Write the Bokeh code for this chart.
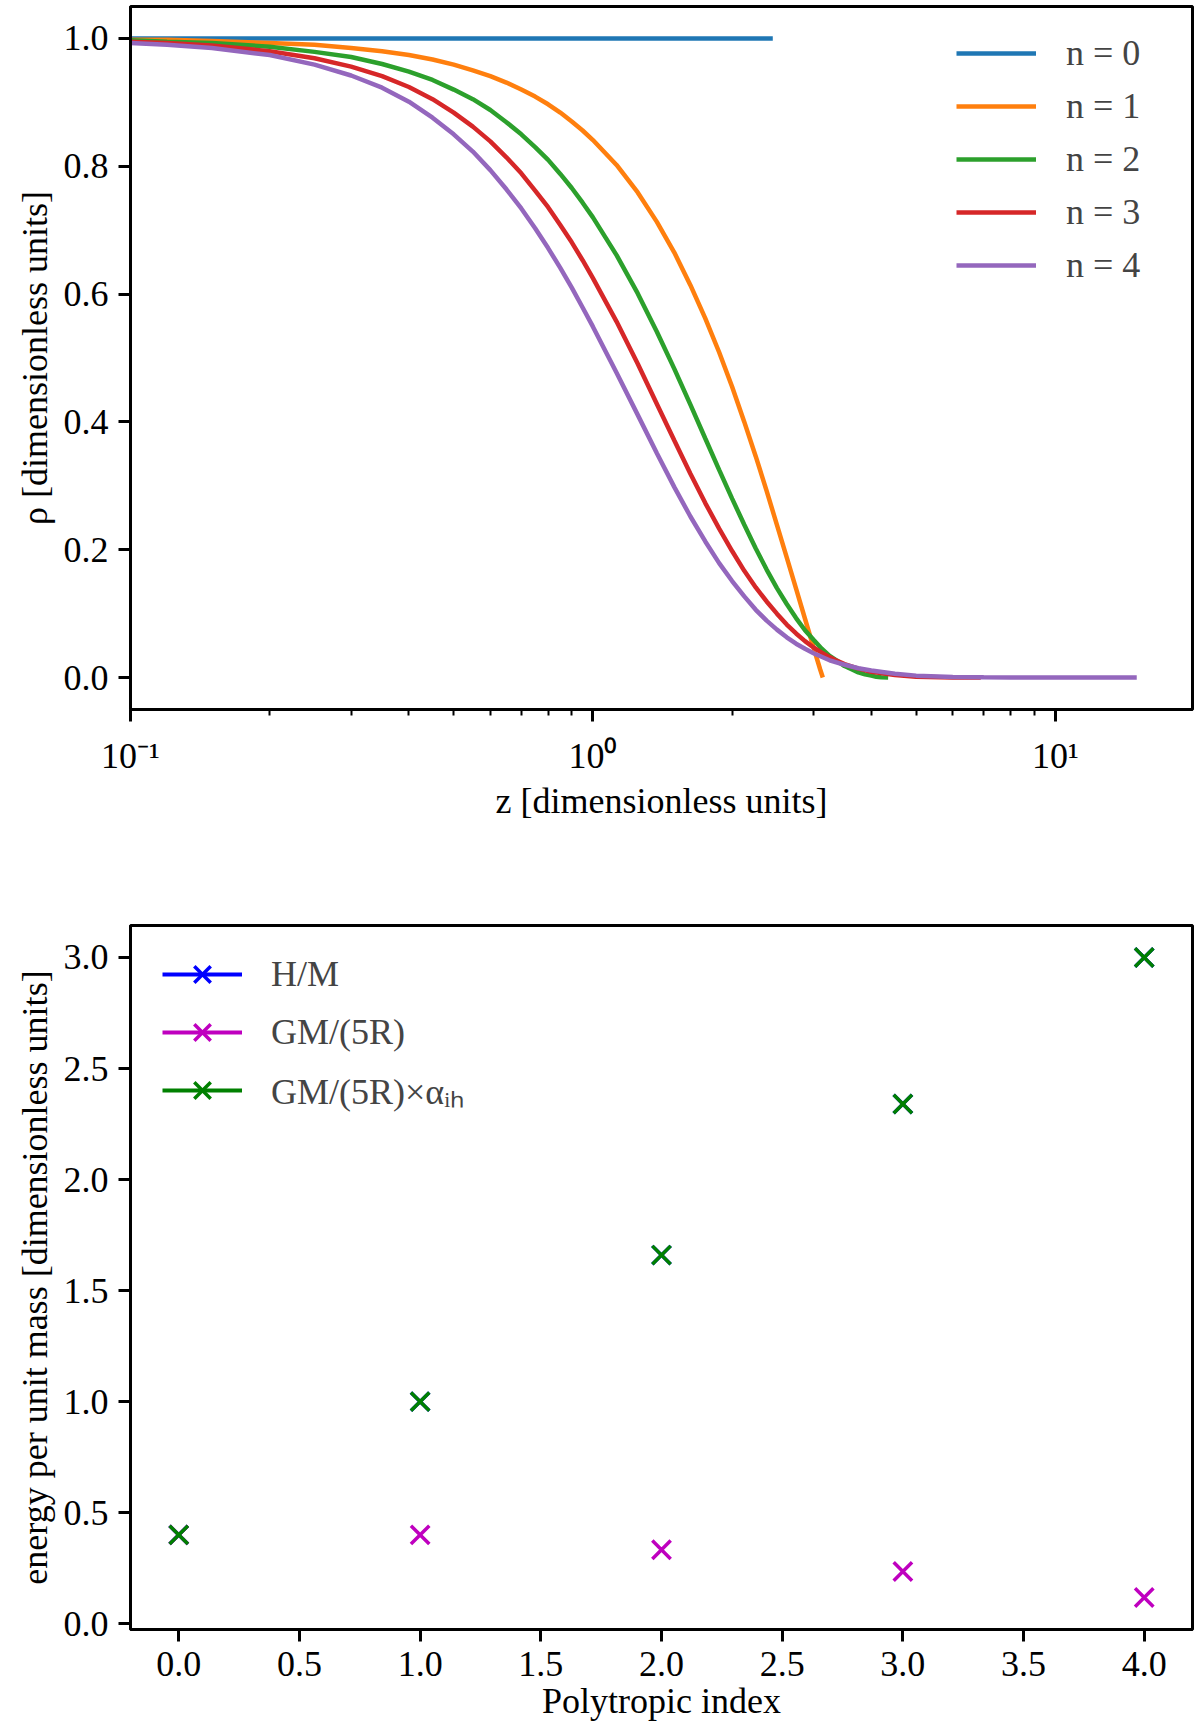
from bokeh.models import Range1d, FixedTicker, PrintfTickFormatter, Legend, LegendItem, ColumnDataSource
from bokeh.layouts import column
from bokeh.plotting import figure
from bokeh.embed import file_html
from bokeh.resources import INLINE

FONT = "Liberation Serif"

# density profiles (z on log axis)
z_n0 = [0.1, 2.449]
rho_n0 = [1.0, 1.0]

z_n1 = [0.1, 0.12, 0.15, 0.2, 0.25, 0.3, 0.35, 0.4, 0.45, 0.5, 0.55, 0.6, 0.65, 0.7, 0.75, 0.8, 0.85, 0.9, 0.95,
        1.0, 1.125, 1.25, 1.375, 1.5, 1.625, 1.75, 1.875, 2.0, 2.125, 2.25, 2.375, 2.5, 2.625, 2.75, 2.875, 3.0,
        3.1, 3.1416]
rho_n1 = [0.998, 0.998, 0.996, 0.993, 0.990, 0.985, 0.980, 0.974, 0.967, 0.959, 0.950, 0.941, 0.931, 0.920, 0.909,
          0.897, 0.884, 0.870, 0.856, 0.841, 0.802, 0.759, 0.713, 0.665, 0.614, 0.562, 0.509, 0.455, 0.400, 0.346,
          0.292, 0.239, 0.188, 0.139, 0.092, 0.047, 0.013, 0.0]

z_n2 = [0.1, 0.12, 0.15, 0.2, 0.25, 0.3, 0.35, 0.4, 0.45, 0.5, 0.55, 0.6, 0.65, 0.7, 0.75, 0.8, 0.85, 0.9, 0.95,
        1.0, 1.125, 1.25, 1.375, 1.5, 1.625, 1.75, 1.875, 2.0, 2.125, 2.25, 2.375, 2.5, 2.625, 2.75, 2.875, 3.0,
        3.125, 3.25, 3.375, 3.5, 3.625, 3.75, 3.875, 4.0, 4.1, 4.2, 4.35]
rho_n2 = [0.997, 0.995, 0.993, 0.987, 0.979, 0.971, 0.960, 0.948, 0.935, 0.920, 0.905, 0.888, 0.869, 0.850, 0.830,
          0.810, 0.788, 0.766, 0.743, 0.720, 0.661, 0.601, 0.541, 0.483, 0.427, 0.374, 0.325, 0.280, 0.239, 0.202,
          0.169, 0.140, 0.115, 0.093, 0.074, 0.059, 0.045, 0.034, 0.026, 0.018, 0.013, 0.008, 0.005, 0.003, 0.0013,
          0.0005, 0.0]

z_n3 = [0.1, 0.12, 0.15, 0.2, 0.25, 0.3, 0.35, 0.4, 0.45, 0.5, 0.55, 0.6, 0.65, 0.7, 0.75, 0.8, 0.85, 0.9, 0.95,
        1.0, 1.125, 1.25, 1.375, 1.5, 1.625, 1.75, 1.875, 2.0, 2.125, 2.25, 2.375, 2.5, 2.625, 2.75, 2.875, 3.0,
        3.125, 3.25, 3.375, 3.5, 3.75, 4.0, 4.5, 5.0, 6.0, 6.9]
rho_n3 = [0.995, 0.993, 0.989, 0.980, 0.969, 0.956, 0.941, 0.924, 0.905, 0.884, 0.862, 0.839, 0.814, 0.789, 0.762,
          0.736, 0.708, 0.681, 0.653, 0.625, 0.557, 0.491, 0.428, 0.371, 0.319, 0.273, 0.233, 0.198, 0.167, 0.141,
          0.119, 0.100, 0.083, 0.069, 0.057, 0.047, 0.039, 0.032, 0.026, 0.021, 0.014, 0.009, 0.004, 0.0014, 0.0001,
          0.0]

z_n4 = [0.1, 0.12, 0.15, 0.2, 0.25, 0.3, 0.35, 0.4, 0.45, 0.5, 0.55, 0.6, 0.65, 0.7, 0.75, 0.8, 0.85, 0.9, 0.95,
        1.0, 1.125, 1.25, 1.375, 1.5, 1.625, 1.75, 1.875, 2.0, 2.125, 2.25, 2.375, 2.5, 2.625, 2.75, 2.875, 3.0,
        3.25, 3.5, 3.75, 4.0, 4.5, 5.0, 6.0, 7.0, 8.0, 10.0, 15.0]
rho_n4 = [0.993, 0.990, 0.985, 0.974, 0.959, 0.942, 0.923, 0.901, 0.876, 0.850, 0.823, 0.794, 0.764, 0.734, 0.703,
          0.672, 0.641, 0.610, 0.579, 0.549, 0.477, 0.411, 0.351, 0.298, 0.252, 0.213, 0.179, 0.151, 0.127, 0.106,
          0.089, 0.075, 0.063, 0.053, 0.045, 0.038, 0.027, 0.020, 0.0145, 0.011, 0.006, 0.003, 0.001, 0.0004,
          0.0001, 0.0, 0.0]

profile_labels = ["n = 0", "n = 1", "n = 2", "n = 3", "n = 4"]
profile_colors = ["#1f77b4", "#ff7f0e", "#2ca02c", "#d62728", "#9467bd"]

# energies
polytropic_index = [0, 1, 2, 3, 4]
h_over_m = [0.4, 1.0, 1.66, 2.34, 3.0]
gm_over_5r = [0.4, 0.4, 0.333, 0.235, 0.118]
gm_over_5r_alpha = [0.4, 1.0, 1.66, 2.34, 3.0]
energy_labels = ["H/M", "GM/(5R)", "GM/(5R)×αᵢₕ"]
energy_colors = ["#0000ff", "#bf00bf", "#008000"]

# axis ticks
z_ticks = [0.1, 1.0, 10.0]
z_tick_labels = ["10⁻¹", "10⁰", "10¹"]
z_minor_ticks = [0.2, 0.3, 0.4, 0.5, 0.6, 0.7, 0.8, 0.9, 2, 3, 4, 5, 6, 7, 8, 9]
rho_ticks = [0.0, 0.2, 0.4, 0.6, 0.8, 1.0]
index_ticks = [0.0, 0.5, 1.0, 1.5, 2.0, 2.5, 3.0, 3.5, 4.0]
energy_ticks = [0.0, 0.5, 1.0, 1.5, 2.0, 2.5, 3.0]


def StyleAxes(plot):
    plot.outline_line_color = "black"
    plot.outline_line_width = 3
    plot.outline_line_alpha = 1
    plot.xgrid.grid_line_color = None
    plot.ygrid.grid_line_color = None
    for axis in plot.axis:
        axis.axis_line_width = 3
        axis.major_tick_line_width = 3
        axis.major_tick_out = 12
        axis.major_tick_in = 0
        axis.minor_tick_line_width = 2
        axis.minor_tick_out = 6
        axis.minor_tick_in = 0
        axis.major_label_text_font = FONT
        axis.major_label_text_font_size = "36px"
        axis.major_label_text_color = "black"
        axis.axis_label_text_font = FONT
        axis.axis_label_text_font_size = "36px"
        axis.axis_label_text_font_style = "normal"
        axis.axis_label_text_color = "black"
        axis.major_label_standoff = 10
        axis.axis_label_standoff = 6


# upper panel
top = figure(width=1196, height=868, x_axis_type="log", output_backend="svg", toolbar_location=None,
             min_border_left=130, min_border_right=4, min_border_top=6, min_border_bottom=159)
top.x_range = Range1d(0.1, 19.8)
top.y_range = Range1d(-0.05, 1.05)

profiles = [(z_n0, rho_n0), (z_n1, rho_n1), (z_n2, rho_n2), (z_n3, rho_n3), (z_n4, rho_n4)]
profile_items = []
for (zs, rhos), label, color in zip(profiles, profile_labels, profile_colors):
    r = top.line(x=zs, y=rhos, line_color=color, line_width=4.5)
    profile_items.append(LegendItem(label=label, renderers=[r]))

StyleAxes(top)
top.xaxis.ticker = FixedTicker(ticks=z_ticks, minor_ticks=z_minor_ticks)
top.xaxis.major_label_overrides = dict(zip(z_ticks, z_tick_labels))
top.xaxis.major_label_standoff = 14
top.xaxis.axis_label_standoff = 2
top.yaxis.ticker = FixedTicker(ticks=rho_ticks)
top.yaxis.formatter = PrintfTickFormatter(format="%.1f")
top.xaxis.axis_label = "z [dimensionless units]"
top.yaxis.axis_label = "ρ [dimensionless units]"

top_legend = Legend(items=profile_items, location=(826, 423), glyph_width=80, glyph_height=40, label_height=40,
                    spacing=11, label_standoff=30, padding=10, margin=0, border_line_color=None,
                    background_fill_alpha=0, label_text_font=FONT, label_text_font_size="36px")
top.add_layout(top_legend)

# lower panel
bottom = figure(width=1196, height=860, output_backend="svg", toolbar_location=None,
                min_border_left=130, min_border_right=4, min_border_top=57, min_border_bottom=99)
bottom.x_range = Range1d(-0.2, 4.2)
bottom.y_range = Range1d(-0.026, 3.144)

energy_items = []
for values, label, color in zip([h_over_m, gm_over_5r, gm_over_5r_alpha], energy_labels, energy_colors):
    src = ColumnDataSource(dict(x=polytropic_index, y=values))
    pts = bottom.scatter(x="x", y="y", source=src, marker="x", size=26, line_color=color, line_width=3.5)
    # line shown only in the legend key
    key_line = bottom.line(x=[float("nan")], y=[float("nan")], line_color=color, line_width=4)
    energy_items.append(LegendItem(label=label, renderers=[key_line, pts]))

StyleAxes(bottom)
bottom.xaxis.ticker = FixedTicker(ticks=index_ticks)
bottom.xaxis.formatter = PrintfTickFormatter(format="%.1f")
bottom.yaxis.ticker = FixedTicker(ticks=energy_ticks)
bottom.yaxis.formatter = PrintfTickFormatter(format="%.1f")
bottom.xaxis.axis_label = "Polytropic index"
bottom.yaxis.axis_label = "energy per unit mass [dimensionless units]"
bottom.xaxis.major_label_standoff = 10
bottom.xaxis.axis_label_standoff = 2

bottom_legend = Legend(items=energy_items, location=(32, 510), glyph_width=80, glyph_height=58, label_height=58,
                       spacing=0, label_standoff=29, padding=8, margin=0, border_line_color=None,
                       background_fill_alpha=0, label_text_font=FONT, label_text_font_size="36px")
bottom.add_layout(bottom_legend)

page = column(top, bottom)
open("out.html", "w").write(file_html(page, INLINE))
